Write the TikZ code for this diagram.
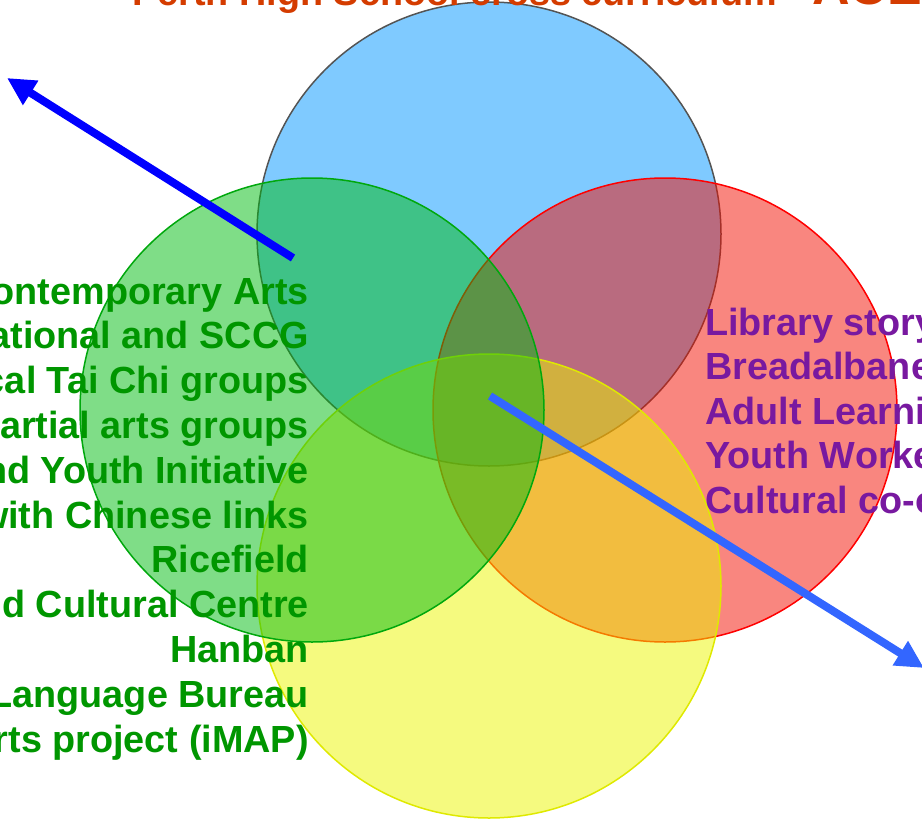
\documentclass[tikz,border=0pt]{standalone}
\usepackage{fontspec}
\setmainfont{Liberation Sans}
\usetikzlibrary{arrows.meta}

\definecolor{setblue}{RGB}{0,150,255}
\definecolor{setred}{RGB}{244,14,0}
\definecolor{setyellow}{RGB}{235,245,0}
\definecolor{setgreen}{RGB}{0,187,15}
\definecolor{greentext}{RGB}{0,150,0}
\definecolor{purpletext}{RGB}{120,25,160}
\definecolor{titletext}{RGB}{212,60,0}
\definecolor{pointerblue}{RGB}{0,0,255}
\definecolor{pointerlight}{RGB}{51,102,255}

\begin{document}
\begin{tikzpicture}[x=1pt, y=-1pt,
    venn/.style={line width=1.5pt, fill opacity=0.5},
    bigtext/.style={inner sep=0pt, font=\bfseries\fontsize{37.8}{44.8}\selectfont},
    pointer/.style={line width=8pt, -{Triangle[length=28pt, width=27pt]}}]
    \useasboundingbox (0,0) rectangle (922,822);
    \clip (0,0) rectangle (922,822);

    % Set centres
    \coordinate (blueset) at (489,234);
    \coordinate (redset) at (665,410);
    \coordinate (yellowset) at (489,586);
    \coordinate (greenset) at (312,410);

    % Circles
    \draw[venn, draw=black!67, fill=setblue] (blueset) circle (232);
    \draw[venn, draw=red, fill=setred] (redset) circle (232);
    \draw[venn, draw=setyellow!95!black, fill=setyellow] (yellowset) circle (232);
    \draw[venn, draw=setgreen!90!black, fill=setgreen] (greenset) circle (232);

    % Partners (left)
    \foreach \line [count=\i from 0] in {Contemporary Arts, National and SCCG,
        Local Tai Chi groups, martial arts groups, and Youth Initiative,
        with Chinese links, Ricefield, and Cultural Centre, Hanban,
        Language Bureau, Arts project (iMAP)}
        \node[bigtext, text=greentext, anchor=base east] (gl\i) at (309, 304+44.8*\i) {\line};

    % Partners (right)
    \foreach \line [count=\i from 0] in {Library story, Breadalbane,
        Adult Learning, Youth Worker, Cultural co-ordinator}
        \node[bigtext, text=purpletext, anchor=base west] (pl\i) at (705, 335+44.5*\i) {\line};

    % Title
    \node[bigtext, text=titletext, anchor=base west] (title) at (132,5) {Perth High School cross curriculum};
    \node[inner sep=0pt, text=titletext, anchor=base west, font=\bfseries\fontsize{52}{60}\selectfont] (ace) at (812,4) {ACE};

    % Pointers
    \coordinate (leftstart) at (293,258);
    \coordinate (lefttip) at (7,78);
    \coordinate (hub) at (490,396);
    \coordinate (righttip) at (924,668);
    \draw[pointer, pointerblue] (leftstart) -- (lefttip);
    \draw[pointer, pointerlight] (hub) -- (righttip);
\end{tikzpicture}
\end{document}
